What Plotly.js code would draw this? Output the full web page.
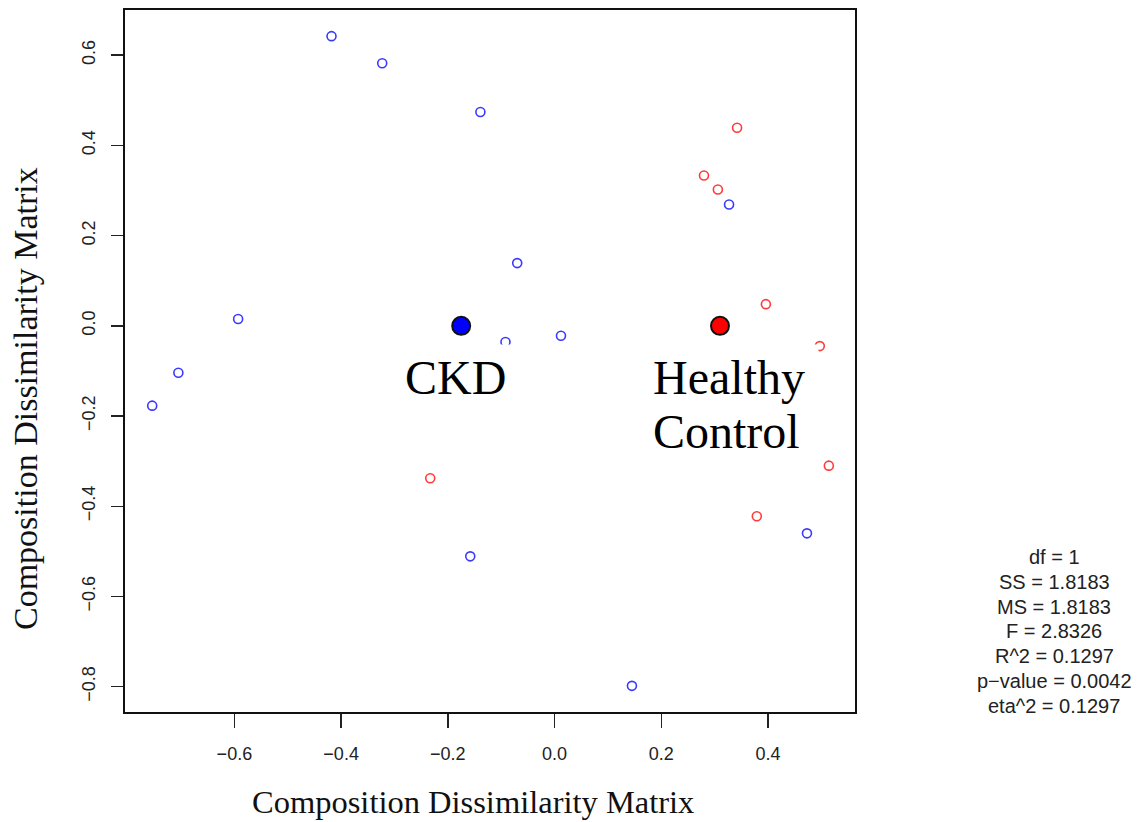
<!DOCTYPE html>
<html><head><meta charset="utf-8">
<script src="https://cdn.plot.ly/plotly-3.0.1.min.js"></script>
<style>body{margin:0;background:#fff}#c{width:1140px;height:822px}</style>
</head><body><div id="c"></div>
<script>
// CKD samples
const ckdX = [-0.418, -0.323, -0.139, 0.327, -0.070, -0.593, 0.012, -0.092, -0.705, -0.754, -0.158, 0.145, 0.473];
const ckdY = [0.642, 0.582, 0.474, 0.269, 0.139, 0.015, -0.022, -0.036, -0.104, -0.177, -0.511, -0.798, -0.460];
// Healthy control samples
const hcX = [0.342, 0.280, 0.306, 0.396, 0.497, 0.514, 0.379, -0.233];
const hcY = [0.439, 0.333, 0.302, 0.048, -0.045, -0.310, -0.422, -0.338];
// Group centroids
const centX = [-0.175, 0.310];
const centY = [0.0, 0.0];
const groupNames = ["CKD", "Healthy", "Control"];
const statsLines = ["df = 1", "SS = 1.8183", "MS = 1.8183", "F = 2.8326", "R^2 = 0.1297", "p\u2212value = 0.0042", "eta^2 = 0.1297"];
const xTicks = [-0.6, -0.4, -0.2, 0.0, 0.2, 0.4];
const yTicks = [-0.8, -0.6, -0.4, -0.2, 0.0, 0.2, 0.4, 0.6];
const axisTitle = "Composition Dissimilarity Matrix";

const traces = [
  {x: ckdX, y: ckdY, type: 'scatter', mode: 'markers', cliponaxis: false,
   marker: {symbol: 'circle-open', size: 9, color: '#3a3aff', line: {width: 1.6}}},
  {x: hcX, y: hcY, type: 'scatter', mode: 'markers', cliponaxis: false,
   marker: {symbol: 'circle-open', size: 9, color: '#ff3a3a', line: {width: 1.6}}},
  {x: centX, y: centY, type: 'scatter', mode: 'markers',
   marker: {symbol: 'circle', size: 18, color: ['#0000ff', '#ff0000'], line: {width: 2, color: '#111'}}}
];

const L = 125, R = 285, T = 10, B = 110;
const plotW = 1140 - L - R, plotH = 822 - T - B;
const px = v => (v - L) / plotW;
const py = v => (822 - B - v) / plotH;

const tickFont = {family: 'Liberation Sans, Arial, sans-serif', size: 18, color: '#222'};
const serif = 'Liberation Serif, Times New Roman, serif';
const fmt = v => v.toFixed(1).replace('-', '\u2212');
const layout = {
  width: 1140, height: 822, showlegend: false,
  paper_bgcolor: '#fff', plot_bgcolor: '#fff',
  margin: {l: L, r: R, t: T, b: B},
  xaxis: {range: [-0.805, 0.563], tickvals: xTicks, ticktext: xTicks.map(fmt),
    showgrid: false, zeroline: false, showline: true, mirror: true, linecolor: '#111', linewidth: 2,
    ticks: 'outside', ticklen: 14, tickwidth: 1.5, tickcolor: '#222', tickfont: tickFont, ticklabelstandoff: 10},
  yaxis: {range: [-0.856, 0.70], tickvals: yTicks, ticktext: yTicks.map(fmt),
    tickangle: -90,
    showgrid: false, zeroline: false, showline: true, mirror: true, linecolor: '#111', linewidth: 2,
    ticks: 'outside', ticklen: 12, tickwidth: 1.5, tickcolor: '#222', tickfont: tickFont, ticklabelstandoff: 9},
  annotations: [
    {x: centX[0], y: centY[0], xref: 'x', yref: 'y', text: groupNames[0], showarrow: false,
     xanchor: 'center', yanchor: 'top', xshift: -6, yshift: -18, bgcolor: '#fff', borderpad: 6,
     font: {family: serif, size: 48, color: '#000'}},
    {x: centX[1], y: centY[1], xref: 'x', yref: 'y', text: groupNames[1], showarrow: false,
     xanchor: 'center', yanchor: 'top', xshift: 9, yshift: -18, bgcolor: '#fff', borderpad: 6, width: 166,
     font: {family: serif, size: 48, color: '#000'}},
    {x: centX[1], y: centY[1], xref: 'x', yref: 'y', text: groupNames[2], showarrow: false,
     xanchor: 'center', yanchor: 'top', xshift: 7, yshift: -77,
     font: {family: serif, size: 48, color: '#000'}},
    {x: px(473), y: py(802), xref: 'paper', yref: 'paper', text: axisTitle, showarrow: false,
     xanchor: 'center', yanchor: 'middle', font: {family: serif, size: 32.5, color: '#111'}},
    {x: px(25), y: py(399), xref: 'paper', yref: 'paper', text: axisTitle, showarrow: false, textangle: -90,
     xanchor: 'center', yanchor: 'middle', font: {family: serif, size: 34, color: '#111'}}
  ]
};
statsLines.forEach((s, i) => {
  layout.annotations.push({
    x: px(1054), y: py(557 + i * 24.8), xref: 'paper', yref: 'paper',
    xanchor: 'center', yanchor: 'middle', showarrow: false, text: s,
    font: {family: 'Liberation Sans, Arial, sans-serif', size: 20, color: '#222'}
  });
});
Plotly.newPlot('c', traces, layout, {displayModeBar: false, staticPlot: true});
</script></body></html>
